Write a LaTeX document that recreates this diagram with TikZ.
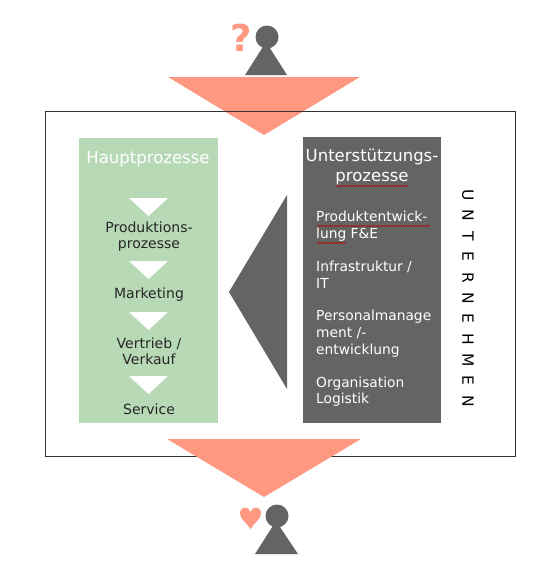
\documentclass[tikz,border=0pt]{standalone}
\usepackage{fontspec}
\setmainfont{DejaVu Sans}
\usetikzlibrary{decorations.pathmorphing}
\definecolor{salmon}{HTML}{FF9880}
\definecolor{dgray}{HTML}{646464}
\definecolor{lgreen}{HTML}{B8D9B5}
\tikzset{
  lab/.style={font=\fontsize{14}{16.5}\selectfont,align=center,inner sep=0pt,text=black!85},
  wlab/.style={font=\fontsize{13.8}{16.7}\selectfont,align=left,inner sep=0pt,text=white,anchor=north west},
  whead/.style={font=\fontsize{16.5}{20}\selectfont,align=center,inner sep=0pt,text=white},
  squig/.style={draw=red!75!black,line width=0.5pt,decorate,decoration={snake,amplitude=0.7pt,segment length=3pt}},
  letter/.style={font=\fontsize{15.5}{15.5}\selectfont,inner sep=0pt,rotate=-90,text=black}
}
\begin{document}
\begin{tikzpicture}[x=1pt,y=-1pt]
\useasboundingbox (0,0) rectangle (550,576);
\fill[white] (0,0) rectangle (550,576);
% top person
\fill[salmon] (168,77) -- (360,77) -- (264,135) -- cycle;
\fill[dgray] (267,37) circle (11.5);
\fill[dgray] (266,42) -- (287,75) -- (245,75) -- cycle;
\node[inner sep=0pt,text=salmon] (q) at (241,37.5) {\fontsize{37}{37}\selectfont\bfseries ?};
% frame
\draw[black!80,line width=0.7pt] (45.5,111.5) rectangle (515.5,456.5);
% left
\fill[lgreen] (79,138) rectangle (218,423);
\node[whead] (h) at (148,159.5) {Hauptprozesse};
\foreach \y in {198,261,312,376}{\fill[white] (129,\y) -- (168,\y) -- (148.5,\y+18) -- cycle;}
\node[lab] (a) at (149,236.5) {Produktions-\\prozesse};
\node[lab] (b) at (149,295) {Marketing};
\node[lab] (c) at (149,351.5) {Vertrieb /\\Verkauf};
\node[lab] (d) at (149,409) {Service};
% right
\fill[dgray] (303,137) rectangle (441,423);
\node[whead] (u) at (372,167) {Unterstützungs-\\prozesse};
\fill[dgray] (287,195) -- (287,389) -- (229,292) -- cycle;
\node[wlab] (p1) at (316,211) {Produktentwick-\\lung F\&E};
\node[wlab] (p2) at (316,261) {Infrastruktur /\\IT};
\node[wlab] (p3) at (316,310) {Personalmanage\\ment /-\\entwicklung};
\node[wlab] (p4) at (316,376.5) {Organisation\\Logistik};
\draw[squig] (336,186) -- (408,186);
\draw[squig] (317,226) -- (430,226);
\draw[squig] (317,243) -- (346,243);
% vertical
\foreach \l [count=\i from 0] in {U,N,T,E,R,N,E,H,M,E,N}{
  \node[letter] (l\i) at (468,{195+\i*20.6}) {\l};
}
% bottom
\fill[salmon] (167,439) -- (361,439) -- (264,497) -- cycle;
\fill[dgray] (277,516) circle (11.5);
\fill[dgray] (276,521) -- (298,554) -- (255,554) -- cycle;
\fill[salmon] (250.5,529) .. controls (247,523) and (240,519) .. (240,513.5) .. controls (240,505.5) and (249,506) .. (250.5,512) .. controls (252,506) and (261,505.5) .. (261,513.5) .. controls (261,519) and (254,523) .. (250.5,529) -- cycle;
\end{tikzpicture}
\end{document}
